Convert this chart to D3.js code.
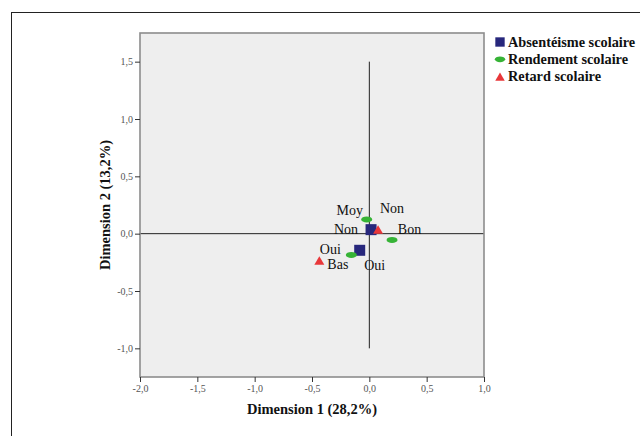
<!DOCTYPE html>
<html>
<head>
<meta charset="utf-8">
<script src="https://cdn.jsdelivr.net/npm/d3@7"></script>
<style>
  html, body { margin: 0; padding: 0; background: #fff; }
  svg { display: block; font-family: "Liberation Serif", "Times New Roman", serif; }
</style>
</head>
<body>
<svg id="chart" width="640" height="436"></svg>
<script>
// Category coordinates on the two dimensions, per variable
const seriesNames = ["Absentéisme scolaire", "Rendement scolaire", "Retard scolaire"];

const absenteismeCats = ["Non", "Oui"];
const absenteismeDim1 = [0.015, -0.084];
const absenteismeDim2 = [0.035, -0.145];

const rendementCats = ["Moy", "Bon", "Bas"];
const rendementDim1 = [-0.023, 0.198, -0.157];
const rendementDim2 = [0.124, -0.055, -0.186];

const retardCats = ["Non", "Oui"];
const retardDim1 = [0.076, -0.436];
const retardDim2 = [0.037, -0.235];

const xTickValues = [-2.0, -1.5, -1.0, -0.5, 0.0, 0.5, 1.0];
const yTickValues = [-1.0, -0.5, 0.0, 0.5, 1.0, 1.5];
const xTitle = "Dimension 1 (28,2%)";
const yTitle = "Dimension 2 (13,2%)";

// Label placement relative to each point (pixels)
const absenteismeLabelShift = [[-25, 4.5], [15, 19.5]];
const rendementLabelShift = [[-17, -4], [17.5, -6], [-13.5, 14]];
const retardLabelShift = [[14, -16], [11, -7]];

const colors = ["#27277c", "#36b336", "#e8373a"];
const shapes = ["square", "ellipse", "triangle"];

const series = [
  { cats: absenteismeCats, d1: absenteismeDim1, d2: absenteismeDim2, shift: absenteismeLabelShift },
  { cats: rendementCats, d1: rendementDim1, d2: rendementDim2, shift: rendementLabelShift },
  { cats: retardCats, d1: retardDim1, d2: retardDim2, shift: retardLabelShift }
].map((s, i) => ({ ...s, name: seriesNames[i], color: colors[i], shape: shapes[i] }));

const svg = d3.select("#chart");

// outer frame
svg.append("rect")
  .attr("x", 11.5).attr("y", 12.5)
  .attr("width", 700).attr("height", 500)
  .attr("fill", "none").attr("stroke", "#222").attr("stroke-width", 1);

const plot = { left: 140, top: 33, width: 344, height: 344 };

const x = d3.scaleLinear().domain([-2, 1]).range([plot.left, plot.left + plot.width]);
const y = d3.scaleLinear().domain([-1.25, 1.75]).range([plot.top + plot.height, plot.top]);

const fmt = v => d3.format(".1f")(v).replace(".", ",").replace("−", "-");

// plot background
svg.append("rect")
  .attr("x", plot.left).attr("y", plot.top)
  .attr("width", plot.width).attr("height", plot.height)
  .attr("fill", "#eeeeee");

// reference lines through the origin
svg.append("line")
  .attr("x1", x(0)).attr("x2", x(0))
  .attr("y1", y(1.5)).attr("y2", y(-1.0))
  .attr("stroke", "#222").attr("stroke-width", 1);
svg.append("line")
  .attr("x1", x(-2)).attr("x2", x(1))
  .attr("y1", y(0)).attr("y2", y(0))
  .attr("stroke", "#222").attr("stroke-width", 1);

// plot border
svg.append("rect")
  .attr("x", plot.left).attr("y", plot.top)
  .attr("width", plot.width).attr("height", plot.height)
  .attr("fill", "none").attr("stroke", "#8c8c8c").attr("stroke-width", 1.6);

// axes
const xAxis = svg.append("g")
  .attr("transform", `translate(0,${plot.top + plot.height})`)
  .call(d3.axisBottom(x).tickValues(xTickValues).tickFormat(fmt).tickSize(5).tickPadding(3));
const yAxis = svg.append("g")
  .attr("transform", `translate(${plot.left},0)`)
  .call(d3.axisLeft(y).tickValues(yTickValues).tickFormat(fmt).tickSize(5).tickPadding(2));

[xAxis, yAxis].forEach(g => {
  g.select(".domain").remove();
  g.selectAll(".tick line").attr("stroke", "#333");
  g.selectAll(".tick text")
    .attr("fill", "#555")
    .style("font-size", "10px")
    .style("font-family", "'Liberation Serif', serif");
});

// axis titles
svg.append("text")
  .attr("x", plot.left + plot.width / 2).attr("y", 414)
  .attr("text-anchor", "middle")
  .style("font-size", "14.5px").style("font-weight", "bold")
  .attr("fill", "#111")
  .text(xTitle);
svg.append("text")
  .attr("transform", `translate(110,${plot.top + plot.height / 2}) rotate(-90)`)
  .attr("text-anchor", "middle")
  .style("font-size", "14.5px").style("font-weight", "bold")
  .attr("fill", "#111")
  .text(yTitle);

// marker drawing
function drawMarker(g, shape, color, cx, cy, scale) {
  const k = scale || 1;
  if (shape === "square") {
    const s = 11 * k;
    g.append("rect").attr("x", cx - s / 2).attr("y", cy - s / 2)
      .attr("width", s).attr("height", s).attr("fill", color);
  } else if (shape === "ellipse") {
    g.append("ellipse").attr("cx", cx).attr("cy", cy)
      .attr("rx", 5.5 * k).attr("ry", 3 * k).attr("fill", color);
  } else {
    const w = 10 * k, h = 8.5 * k;
    g.append("path")
      .attr("d", `M${cx - w / 2},${cy + h / 2}L${cx},${cy - h / 2}L${cx + w / 2},${cy + h / 2}Z`)
      .attr("fill", color);
  }
}

const marks = svg.append("g");
series.forEach(s => {
  s.cats.forEach((c, i) => {
    drawMarker(marks, s.shape, s.color, x(s.d1[i]), y(s.d2[i]));
  });
});

// category labels
const labels = svg.append("g");
series.forEach(s => {
  s.cats.forEach((c, i) => {
    labels.append("text")
      .attr("x", x(s.d1[i]) + s.shift[i][0])
      .attr("y", y(s.d2[i]) + s.shift[i][1])
      .attr("text-anchor", "middle")
      .style("font-size", "14px")
      .attr("fill", "#111")
      .text(c);
  });
});

// legend
const legend = svg.append("g");
series.forEach((s, i) => {
  const ly = 42 + i * 17.3;
  drawMarker(legend, s.shape, s.color, 500, ly, s.shape === "square" ? 0.85 : 0.95);
  legend.append("text")
    .attr("x", 508).attr("y", ly + 4.8)
    .style("font-size", "14.3px").style("font-weight", "bold")
    .attr("fill", "#111")
    .text(s.name);
});
</script>
</body>
</html>
